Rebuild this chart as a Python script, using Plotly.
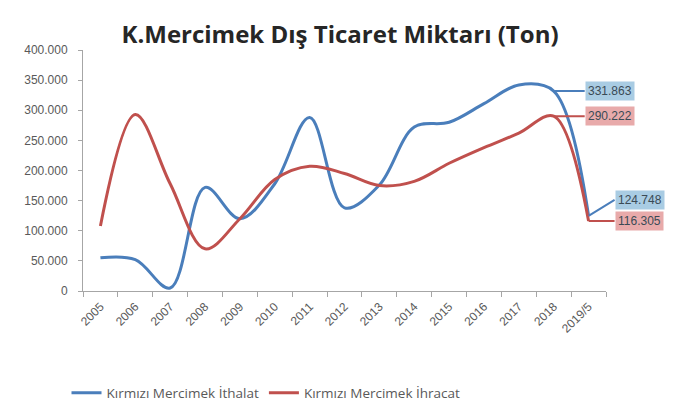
import plotly.graph_objects as go

# categories and values (tons)
years = ['2005', '2006', '2007', '2008', '2009', '2010', '2011', '2012',
         '2013', '2014', '2015', '2016', '2017', '2018', '2019/5']
ithalat = [55000, 52000, 5000, 172000, 120000, 178000, 288000, 138000,
           176000, 272000, 280000, 311000, 342000, 331863, 124748]
ihracat = [108000, 293000, 178000, 70000, 120000, 185000, 207000, 195000,
           175000, 182000, 212000, 238000, 262000, 290222, 116305]

# page has an 8px body margin, so the figure is drawn 8px smaller
W, H = 666, 411
L, R, T, B = 75, 68, 42, 127
pw, ph = W - L - R, H - T - B

blue = '#4A7EBB'
red = '#C0504D'

fig = go.Figure()
fig.add_trace(go.Scatter(x=years, y=ithalat, mode='lines', name='Kırmızı Mercimek İthalat',
                         line=dict(color=blue, width=3, shape='spline', smoothing=1.0)))
fig.add_trace(go.Scatter(x=years, y=ihracat, mode='lines', name='Kırmızı Mercimek İhracat',
                         line=dict(color=red, width=3, shape='spline', smoothing=1.0)))

def fmt(v):
    return f'{v:,}'.replace(',', '.')

# data labels with leader lines (x given as category index)
labels = [
    (13, ithalat[13], 31, 0, '#A9CCE3', blue),
    (13, ihracat[13], 31, 0, '#E8AAAA', red),
    (14, ithalat[14], 26, -16, '#A9CCE3', blue),
    (14, ihracat[14], 26, 0, '#E8AAAA', red),
]
for x, y, ax, ay, bg, lc in labels:
    fig.add_annotation(x=x, y=y, text=fmt(y), showarrow=True, arrowhead=0,
                       arrowwidth=2, arrowcolor=lc, ax=ax, ay=ay,
                       xanchor='left', bgcolor=bg, borderpad=2,
                       font=dict(family='Liberation Sans', size=12, color='#3a4a55'))

fig.update_layout(
    width=W, height=H,
    margin=dict(l=L, r=R, t=T, b=B),
    paper_bgcolor='white', plot_bgcolor='white',
    separators=',.',
    title=dict(text='<b>K.Mercimek Dış Ticaret Miktarı (Ton)</b>', x=(340 - 8) / W, xanchor='center',
               y=1 - 27 / H, yanchor='middle',
               font=dict(family='Open Sans', size=24, color='#262626')),
    xaxis=dict(type='category', range=[-0.5, 14.5], showline=True, linecolor='#A6A6A6',
               ticks='outside', tickson='boundaries', ticklen=5, tickcolor='#A6A6A6',
               tickangle=-45, showgrid=False, zeroline=False, ticklabelstandoff=3,
               tickfont=dict(family='Liberation Sans', size=12, color='#595959')),
    yaxis=dict(range=[0, 400000], dtick=50000, tickformat=',.0f', showline=True,
               linecolor='#A6A6A6', ticks='outside', ticklen=4, tickcolor='#A6A6A6',
               showgrid=False, zeroline=False, ticklabelstandoff=8,
               tickfont=dict(family='Liberation Sans', size=12, color='#595959')),
    legend=dict(orientation='h', x=(266 - 8 - L) / pw, xanchor='center',
                y=(T + ph - 385) / ph, yanchor='middle',
                font=dict(family='Open Sans', size=13.5, color='#595959'),
                itemwidth=30, tracegroupgap=0),
)

fig.write_html('out.html')
